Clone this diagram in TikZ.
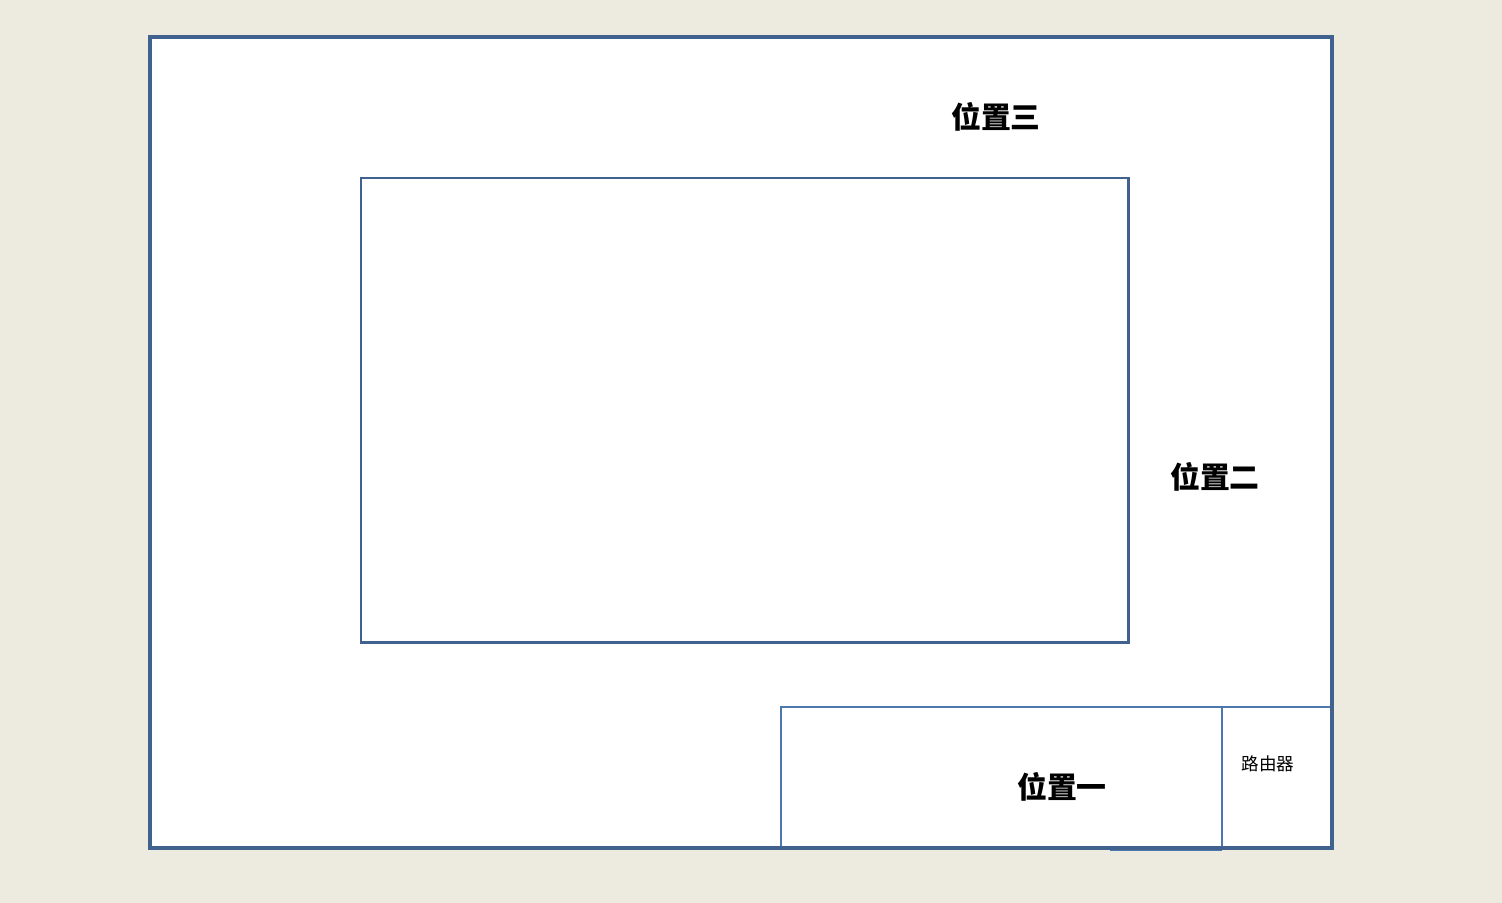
\documentclass[tikz,border=0pt]{standalone}
\usepackage{fontspec}
\newfontfamily\cjk{Noto Sans CJK SC}
\definecolor{bgbeige}{HTML}{EDEAE0}
\definecolor{wallblue}{HTML}{41618F}
\definecolor{boxblue}{HTML}{4D78AE}
\begin{document}
\begin{tikzpicture}[x=0.02cm,y=-0.02cm,font=\cjk,
	wall/.style={draw=wallblue,line width=2pt},
	zone/.style={draw=boxblue,line width=1pt},
	lbl/.style={font=\cjk\bfseries\fontsize{17}{20}\selectfont}]
	\fill[bgbeige] (0,0) rectangle (1502,903);
	\fill[white] (150,37) rectangle (1332,848);
	\draw[zone] (781,707) rectangle (1222,848);
	\draw[zone] (1222,707) rectangle (1332,848);
	\draw[zone] (1110,850)--(1222,850);
	\draw[wall] (150,37) rectangle (1332,848);
	\draw[wall,line width=1.7pt] (361,178) rectangle (1128,642);
	\node[lbl] (pos3) at (996,117) {位置三};
	\node[lbl] (pos2) at (1215,477) {位置二};
	\node[lbl] (pos1) at (1062,787) {位置一};
	\node[font=\cjk\fontsize{10}{12}\selectfont] (router) at (1268,764) {路由器};
\end{tikzpicture}
\end{document}
